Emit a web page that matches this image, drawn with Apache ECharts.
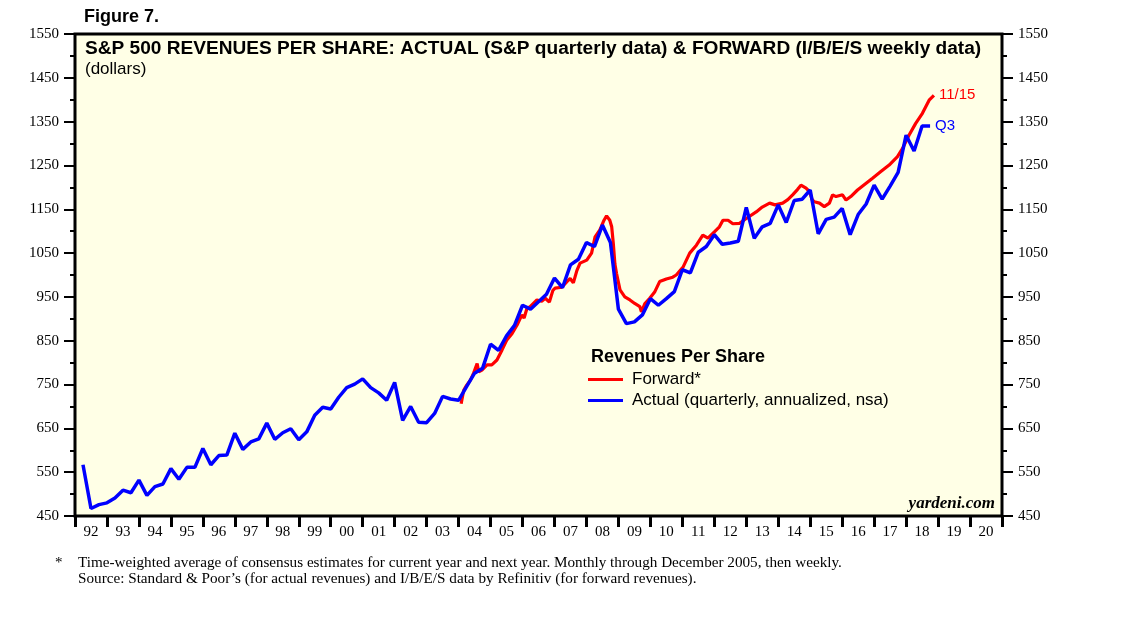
<!DOCTYPE html>
<html>
<head>
<meta charset="utf-8">
<script src="https://cdn.jsdelivr.net/npm/echarts@6.0.0/dist/echarts.min.js"></script>
<style>
html,body{margin:0;padding:0;background:#ffffff;}
#chart{width:1138px;height:621px;}
</style>
</head>
<body>
<div id="chart"></div>
<script>
// ---- data ----
var yearLabels = ['92','93','94','95','96','97','98','99','00','01','02','03','04','05','06','07','08','09','10','11','12','13','14','15','16','17','18','19','20'];
var yTicks = [450, 550, 650, 750, 850, 950, 1050, 1150, 1250, 1350, 1450, 1550];

// Actual revenues per share, quarterly (annualized), 1992 Q1 .. 2018 Q3
var actualFirstQuarterEnd = 1992.25;
var actualValues = [
  567, 467, 476, 480, 491, 509, 503, 532,
  497, 517, 523, 558, 534, 561, 561, 604,
  567, 588, 589, 639, 602, 619, 626, 662,
  625, 640, 649, 624, 642, 680, 698, 694,
  721, 743, 751, 763, 743, 731, 714, 755,
  668, 700, 664, 663, 684, 723, 717, 714,
  745, 776, 787, 842, 828, 861, 885, 931,
  922, 939, 956, 993, 971, 1023, 1036, 1074,
  1065, 1114, 1074, 922, 889, 893, 909, 946,
  931, 946, 962, 1012, 1005, 1052, 1065, 1092,
  1070, 1073, 1077, 1154, 1084, 1110, 1118, 1160,
  1120, 1170, 1173, 1194, 1094, 1127, 1132, 1152,
  1092, 1138, 1162, 1205, 1173, 1203, 1234, 1319,
  1283, 1340, 1340
];

// Forward revenues per share (I/B/E/S), dates as decimal years
var forwardDates = [
  2004.08, 2004.16, 2004.25, 2004.37, 2004.47, 2004.58, 2004.63, 2004.73, 2004.89, 2005.04,
  2005.20, 2005.36, 2005.51, 2005.67, 2005.83, 2005.98, 2006.05, 2006.14, 2006.24, 2006.45,
  2006.60, 2006.71, 2006.84, 2006.95, 2007.02, 2007.23, 2007.39, 2007.49, 2007.59, 2007.70,
  2007.80, 2008.01, 2008.16, 2008.27, 2008.42, 2008.55, 2008.63, 2008.68, 2008.73, 2008.79,
  2008.84, 2008.89, 2008.94, 2009.05, 2009.20, 2009.36, 2009.51, 2009.67, 2009.72, 2009.83,
  2009.98, 2010.14, 2010.29, 2010.50, 2010.70, 2010.81, 2011.03, 2011.23, 2011.44, 2011.64,
  2011.80, 2012.01, 2012.16, 2012.27, 2012.43, 2012.58, 2012.79, 2013.00, 2013.31, 2013.50,
  2013.73, 2013.90, 2014.14, 2014.30, 2014.45, 2014.60, 2014.71, 2014.87, 2014.98, 2015.06,
  2015.13, 2015.29, 2015.44, 2015.60, 2015.70, 2015.81, 2016.01, 2016.12, 2016.27, 2016.48,
  2016.74, 2016.95, 2017.21, 2017.47, 2017.73, 2017.89, 2018.09, 2018.30, 2018.51, 2018.72,
  2018.87
];
var forwardValues = [
  706, 737, 748, 760, 776, 798, 779, 783, 795, 795,
  806, 829, 852, 866, 886, 909, 902, 924, 928, 943,
  940, 947, 938, 965, 970, 972, 985, 992, 982, 1010,
  1027, 1034, 1050, 1087, 1103, 1125, 1135, 1137, 1125, 1110,
  1072, 1025, 1004, 966, 950, 943, 935, 928, 916, 935,
  947, 962, 985, 991, 995, 1000, 1019, 1050, 1068, 1091,
  1084, 1099, 1110, 1125, 1125, 1117, 1118, 1129, 1144, 1155,
  1164, 1160, 1164, 1172, 1183, 1195, 1205, 1198, 1190, 1172,
  1167, 1164, 1156, 1164, 1183, 1179, 1183, 1171, 1179, 1194,
  1209, 1221, 1236, 1251, 1270, 1289, 1319, 1346, 1369, 1399,
  1410
];

var actualData = actualValues.map(function (v, i) { return [actualFirstQuarterEnd + 0.25 * i, v]; });
var forwardData = forwardDates.map(function (d, i) { return [d, forwardValues[i]]; });

var chart = echarts.init(document.getElementById('chart'));
var serif = 'Liberation Serif';
var sans = 'Liberation Sans';

function yAxisCfg(pos) {
  return {
    type: 'value', position: pos, min: yTicks[0], max: yTicks[yTicks.length - 1], interval: 100,
    axisLine: { show: false },
    splitLine: { show: false },
    axisTick: { show: true, length: 11, lineStyle: { color: '#000', width: 2 } },
    minorTick: { show: true, splitNumber: 2, length: 5, lineStyle: { color: '#000', width: 2 } },
    axisLabel: { color: '#000', fontFamily: serif, fontSize: 15, margin: 16, formatter: function (v) { return String(v); } }
  };
}

chart.setOption({
  animation: false,
  backgroundColor: '#ffffff',
  grid: {
    left: 75, right: 136, top: 34, bottom: 105,
    show: true, backgroundColor: '#FFFFE6', borderColor: '#000', borderWidth: 3
  },
  xAxis: [
    { type: 'value', min: 1992, max: 2021, show: false },
    {
      type: 'category', position: 'bottom', data: yearLabels, boundaryGap: true,
      axisLine: { show: false },
      axisTick: { show: true, interval: 0, length: 11, lineStyle: { color: '#000', width: 3 } },
      axisLabel: { interval: 0, color: '#000', fontFamily: serif, fontSize: 15, margin: 9 },
      splitLine: { show: false }
    }
  ],
  yAxis: [yAxisCfg('left'), yAxisCfg('right')],
  legend: {
    left: 588, top: 371, orient: 'vertical', itemGap: 4, padding: 0,
    itemWidth: 35, itemHeight: 3, icon: 'rect',
    textStyle: { fontFamily: sans, fontSize: 17, color: '#000', padding: [0, 0, 0, 4] },
    data: ['Forward*', 'Actual (quarterly, annualized, nsa)']
  },
  series: [
    {
      name: 'Forward*', type: 'line', xAxisIndex: 0, yAxisIndex: 0,
      data: forwardData, showSymbol: false, symbol: 'none',
      lineStyle: { color: '#FF0000', width: 3.2 }, itemStyle: { color: '#FF0000' },
      endLabel: { show: true, formatter: '11/15', color: '#FF0000', fontFamily: sans, fontSize: 15, distance: 5 }
    },
    {
      name: 'Actual (quarterly, annualized, nsa)', type: 'line', xAxisIndex: 0, yAxisIndex: 0,
      data: actualData, showSymbol: false, symbol: 'none',
      lineStyle: { color: '#0000FF', width: 3.5 }, itemStyle: { color: '#0000FF' },
      endLabel: { show: true, formatter: 'Q3', color: '#0000FF', fontFamily: sans, fontSize: 15, distance: 5 }
    }
  ],
  graphic: [
    { type: 'text', left: 84, top: 8, style: { text: 'Figure 7.', fontFamily: sans, fontWeight: 'bold', fontSize: 18, fill: '#000' } },
    { type: 'text', left: 85, top: 39, style: { text: 'S&P 500 REVENUES PER SHARE: ACTUAL (S&P quarterly data) & FORWARD (I/B/E/S weekly data)', fontFamily: sans, fontWeight: 'bold', fontSize: 19.1, fill: '#000' } },
    { type: 'text', left: 85, top: 61, style: { text: '(dollars)', fontFamily: sans, fontSize: 17, fill: '#000' } },
    { type: 'text', left: 591, top: 348, style: { text: 'Revenues Per Share', fontFamily: sans, fontWeight: 'bold', fontSize: 18, fill: '#000' } },
    { type: 'text', right: 143, top: 495, style: { text: 'yardeni.com', fontFamily: serif, fontStyle: 'italic', fontWeight: 'bold', fontSize: 17, fill: '#000' } },
    { type: 'text', left: 55, top: 556, style: { text: '*', fontFamily: serif, fontSize: 15, fill: '#000' } },
    { type: 'text', left: 78, top: 556, style: { text: 'Time-weighted average of consensus estimates for current year and next year. Monthly through December 2005, then weekly.', fontFamily: serif, fontSize: 15.2, fill: '#000' } },
    { type: 'text', left: 78, top: 572, style: { text: 'Source: Standard & Poor\u2019s (for actual revenues) and I/B/E/S data by Refinitiv (for forward revenues).', fontFamily: serif, fontSize: 15.2, fill: '#000' } }
  ]
});
</script>
</body>
</html>
